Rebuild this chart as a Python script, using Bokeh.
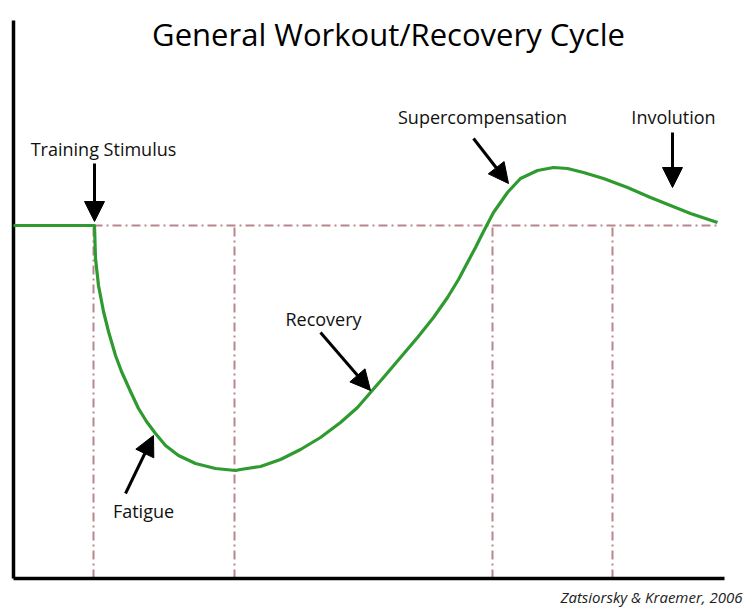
from bokeh.plotting import figure
from bokeh.models import Range1d, ColumnDataSource, Arrow, NormalHead, Label
from bokeh.core.properties import value
from bokeh.embed import file_html
from bokeh.resources import INLINE

# --- data (time units along x, performance units along y; origin at axis corner) ---
baseline_level = 353
curve_t = [0, 81, 82, 85, 90, 95, 102, 108, 117, 125, 133, 142, 152, 165, 182, 202, 222, 227,
           247, 267, 287, 307, 327, 344, 357, 370, 387, 404, 420, 434, 445, 454, 462, 470,
           480, 494, 507, 524, 540, 554, 570, 590, 614, 637, 657, 677, 704]
curve_perf = [353, 353, 320, 293, 267, 247, 223, 207, 187, 170, 157, 145, 133, 123, 115, 110, 108, 109,
              112, 119, 129, 141, 156, 171, 186, 201, 221, 241, 261, 281, 299, 316, 331, 347,
              366, 386, 400, 408, 411, 410, 406, 400, 391, 381, 373, 365, 356]
phase_t = [80, 221, 479, 599]
baseline_start, baseline_end = 80, 705
axis_top = 558
axis_right = 711

label_texts = ["Training Stimulus", "Fatigue", "Recovery", "Supercompensation", "Involution"]
label_t = [90, 130, 310, 469, 660]
label_perf = [430, 68, 260, 462, 462]
arrow_t0 = [81, 112, 307, 460, 659]
arrow_p0 = [415, 85, 246, 440, 446]
arrow_t1 = [81, 140, 357, 495, 659]
arrow_p1 = [357, 143, 188, 395, 391]

title_text = "General Workout/Recovery Cycle"
source_text = "Zatsiorsky & Kraemer, 2006"

FONT = "Open Sans, Noto Sans, sans-serif"

p = figure(width=751, height=616, output_backend="svg", toolbar_location=None,
           x_range=Range1d(-13, 738), y_range=Range1d(-38, 578),
           x_axis_type=None, y_axis_type=None, min_border=0,
           outline_line_color=None, background_fill_color="white")
p.grid.visible = False

# dash-dot reference lines
dash_color = "#b8868c"
p.line([baseline_start, baseline_end], [baseline_level, baseline_level],
       line_color=dash_color, line_width=2, line_dash="9 4 2 4")
p.segment(x0=phase_t, y0=[0] * len(phase_t), x1=phase_t, y1=[baseline_level] * len(phase_t),
          line_color=dash_color, line_width=2, line_dash="9 4 2 4")

# axes
p.line([0, 0], [0, axis_top], line_color="black", line_width=3.5)
p.line([0, axis_right], [0, 0], line_color="black", line_width=3.5)

# curve
p.line(curve_t, curve_perf, line_color="#2f9a2f", line_width=3.2, line_join="round")

# arrows
asrc = ColumnDataSource(dict(x0=arrow_t0, y0=arrow_p0, x1=arrow_t1, y1=arrow_p1))
p.add_layout(Arrow(source=asrc, x_start="x0", y_start="y0", x_end="x1", y_end="y1",
                   line_color="black", line_width=3,
                   end=NormalHead(size=20, fill_color="black", line_color="black", line_width=1)))

# labels
lsrc = ColumnDataSource(dict(x=label_t, y=label_perf, t=label_texts))
p.text(x="x", y="y", text="t", source=lsrc, text_font=value(FONT), text_font_size="18px",
       text_align="center", text_baseline="middle", text_color="#111111")

p.add_layout(Label(x=375, y=545, text=title_text, text_font=FONT, text_font_size="31px",
                   text_align="center", text_baseline="middle", text_color="black"))
p.add_layout(Label(x=729, y=-18, text=source_text, text_font=FONT, text_font_size="15px",
                   text_font_style="italic", text_align="right", text_baseline="middle",
                   text_color="#222222"))

open("out.html", "w").write(file_html(p, INLINE))
